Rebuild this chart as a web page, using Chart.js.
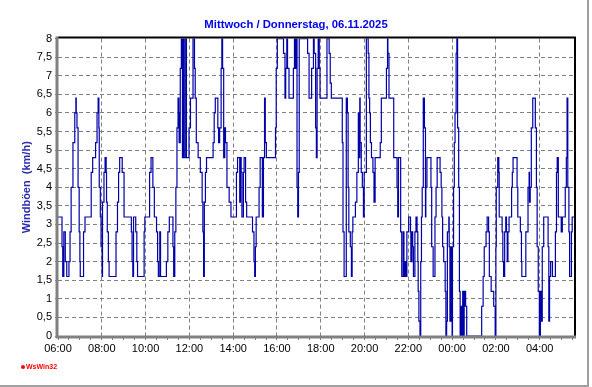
<!DOCTYPE html>
<html lang="de">
<head>
<meta charset="UTF-8">
<title>Windböen</title>
<script src="https://cdn.jsdelivr.net/npm/chart.js"></script>
<style>
  * { margin: 0; padding: 0; box-sizing: border-box; }
  body { background: #fff; width: 592px; height: 387px; overflow: hidden; }
  #grafico { display: block; }
</style>
</head>
<body>
<canvas id="grafico" width="592" height="387"></canvas>
<script>
// Zeitpunkte in Minuten ab 06:00 (Mittwoch), an denen sich der Wert ändert
const minuten = [
  0, 11, 13, 16, 20, 24, 30, 33, 36, 41, 46, 49, 50, 52, 55, 58, 60, 61, 70, 74,
  91, 95, 103, 107, 110, 112, 113, 116, 118, 121, 122, 126, 129, 132, 133, 135, 138, 140, 159, 163,
  166, 169, 176, 181, 201, 203, 205, 207, 213, 216, 218, 236, 238,
  251, 255, 260, 264, 270, 273, 275, 279, 281, 297, 301, 305, 315, 317, 320, 323, 326,
  329, 331, 332, 335, 338, 341, 343, 344, 346, 350, 352, 359, 363, 370, 374, 376, 379, 384, 390, 395,
  397, 399, 401, 404, 407, 425, 428, 431, 438, 440, 443, 447, 449, 451, 454, 457, 459, 463, 469, 474,
  489, 492, 498, 500, 502, 504, 508, 510, 514, 517, 533, 537, 539, 541, 543, 551, 554, 560, 563, 566,
  568, 571, 596, 598, 601, 618, 622, 624, 627, 629, 633, 645, 648, 649, 652, 655, 657, 659, 661, 684,
  688, 695, 700, 702, 706, 708, 710, 713, 716, 718,
  737, 743, 746, 749, 779, 781, 784, 790, 793, 795, 797, 801, 804, 806, 808, 815, 819, 823, 825, 827,
  828, 831, 834, 837, 839, 845, 850, 852, 854, 856, 859, 863, 866, 869, 883, 886, 900, 903, 904, 907,
  920, 929, 931, 933, 939, 942, 946, 948, 951, 954, 956,
  961, 966, 967, 970, 972, 974, 978, 981, 984, 986, 987, 989, 992, 994, 996, 998, 1001, 1004, 1007, 1008,
  1011, 1022, 1024, 1028, 1033, 1036, 1039, 1047, 1050, 1052, 1054, 1057, 1061, 1063, 1065, 1067, 1071, 1072, 1074, 1077,
  1080, 1081, 1084, 1086, 1088, 1091, 1093, 1095, 1098, 1100, 1102, 1104, 1107, 1109, 1112, 1113, 1115, 1117, 1120, 1161,
  1165, 1168, 1173, 1176, 1180, 1182, 1187, 1194, 1198,
  1200, 1201, 1205, 1208, 1209, 1217, 1219, 1221, 1224, 1227, 1229, 1231, 1233, 1236, 1243, 1245, 1247, 1258, 1260, 1267,
  1270, 1271, 1282, 1288, 1291, 1292, 1294, 1297, 1301, 1308, 1311, 1313, 1316, 1319, 1322, 1324, 1327, 1331, 1343, 1345,
  1347, 1350, 1355, 1363, 1366, 1368, 1371, 1379, 1382, 1390, 1393, 1395, 1397, 1400, 1402, 1407, 1409, 1414
];
// Windböen in km/h
const boeen = [
  3.2, 2.4, 1.6, 2.8, 2.0, 1.6, 2.0, 2.8, 4.0, 5.2, 6.0, 6.4, 6.0, 5.6, 4.0, 2.8, 2.0, 1.6, 2.8, 3.2,
  4.4, 4.8, 5.2, 6.0, 6.4, 5.6, 4.0, 3.2, 2.4, 1.6, 3.6, 4.4, 4.8, 4.4, 3.6, 2.8, 2.0, 1.6, 2.8, 3.6,
  4.4, 4.8, 4.4, 3.2, 2.8, 2.0, 1.6, 3.2, 2.8, 2.0, 1.6, 2.8, 3.2,
  4.4, 4.8, 4.0, 3.2, 2.8, 2.0, 1.6, 2.8, 1.6, 2.0, 2.8, 3.2, 2.4, 1.6, 2.8, 4.0, 5.6,
  6.4, 6.0, 5.2, 7.2, 8.0, 4.8, 6.4, 8.0, 4.8, 8.0, 4.8, 5.6, 6.4, 8.0, 7.2, 6.4, 5.2, 4.8, 4.4, 3.6,
  2.8, 1.6, 3.6, 4.4, 4.8, 5.2, 6.0, 6.4, 5.6, 5.2, 5.6, 7.2, 8.0, 7.2, 4.8, 5.6, 5.2, 4.0, 3.6, 3.2,
  4.4, 4.8, 3.6, 4.8, 4.4, 3.2, 4.4, 4.8, 3.6, 3.2, 2.8, 2.0, 1.6, 2.4, 3.2, 4.0, 4.8, 3.2, 4.8, 6.4,
  5.2, 4.8, 5.6, 7.2, 8.0, 7.6, 6.4, 7.2, 8.0, 7.2, 6.4, 7.2, 8.0, 7.2, 8.0, 4.0, 3.2, 4.4, 8.0, 7.6,
  6.4, 7.2, 8.0, 7.6, 5.6, 4.8, 7.2, 8.0, 7.2, 6.4,
  8.0, 7.6, 6.8, 6.4, 5.2, 2.8, 1.6, 6.4, 6.0, 4.0, 2.8, 2.4, 1.6, 2.8, 3.2, 3.6, 4.4, 6.0, 4.8, 6.4,
  5.2, 4.4, 4.0, 3.2, 4.4, 8.0, 7.6, 6.4, 6.0, 5.2, 4.8, 4.4, 3.6, 4.8, 5.2, 6.4, 7.2, 8.0, 7.6, 6.4,
  4.8, 4.0, 3.2, 4.8, 2.8, 1.6, 2.8, 1.6, 2.0, 1.6, 2.8,
  3.2, 2.8, 2.0, 2.8, 2.4, 1.6, 2.8, 3.2, 2.8, 2.0, 1.2, 0.4, 0, 2.0, 3.2, 4.0, 6.4, 5.6, 3.2, 4.0,
  4.8, 4.0, 2.4, 1.6, 3.2, 4.0, 4.8, 4.4, 4.0, 3.2, 2.4, 2.0, 1.2, 0, 0.4, 2.8, 3.2, 2.4, 0.4, 2.4,
  0, 2.4, 4.0, 5.2, 6.0, 7.6, 8.0, 5.6, 4.0, 1.2, 0, 0.8, 0, 1.2, 0, 0.8, 1.2, 0.8, 0, 0.8,
  1.6, 2.4, 2.8, 3.2, 2.8, 1.6, 1.2, 0.8, 0,
  2.4, 4.0, 4.8, 4.4, 3.2, 2.8, 2.0, 1.6, 2.8, 3.2, 2.8, 2.0, 2.8, 3.2, 4.0, 4.4, 4.8, 4.0, 3.2, 2.8,
  2.0, 1.6, 2.8, 4.0, 4.4, 3.6, 4.0, 5.6, 6.4, 5.6, 4.0, 2.4, 1.2, 0, 1.2, 0.4, 2.4, 3.2, 2.4, 0.4,
  1.6, 2.0, 1.6, 2.8, 4.4, 4.8, 3.2, 2.8, 3.2, 4.0, 4.8, 6.4, 4.0, 2.8, 1.6, 2.8, 3.2, 3.2
];
// Beschriftung der x-Achse (alle 2 Stunden), Nebenstriche alle 30 Minuten
const zeitLabels = ['06:00', '08:00', '10:00', '12:00', '14:00', '16:00', '18:00', '20:00', '22:00', '00:00', '02:00', '04:00'];
const xMax = 1414;
const hauptSchritt = 120;
const nebenSchritt = 30;
const yMax = 8;
const ySchritt = 0.5;

const schrift = "'Liberation Sans', Arial, sans-serif";
const schmal = "'Liberation Sans Narrow', 'Liberation Sans', Arial, sans-serif";
const gitterFarbe = '#808080';

// Rahmen, Achsen und WsWin32-Logo
const rahmen = {
  id: 'rahmen',
  beforeDraw(chart) {
    const ctx = chart.ctx;
    ctx.save();
    ctx.fillStyle = '#fff';
    ctx.fillRect(0, 0, chart.width, chart.height);
    ctx.restore();
  },
  afterDatasetsDraw(chart) {
    const { ctx, chartArea: a } = chart;
    ctx.save();
    ctx.strokeStyle = '#000';
    ctx.lineWidth = 2;
    ctx.beginPath();
    ctx.moveTo(a.left, a.top - 1);
    ctx.lineTo(a.right + 1, a.top - 1);
    ctx.lineTo(a.right + 1, a.bottom);
    ctx.stroke();

    ctx.strokeStyle = gitterFarbe;
    ctx.lineWidth = 3;
    ctx.beginPath();
    ctx.moveTo(a.left - 1, a.top - 2);
    ctx.lineTo(a.left - 1, a.bottom + 1);
    ctx.lineTo(a.right + 2, a.bottom + 1);
    ctx.stroke();

    // äußerer Rand rechts/unten
    ctx.strokeStyle = '#a0a0a0';
    ctx.lineWidth = 2;
    ctx.beginPath();
    ctx.moveTo(588, 0);
    ctx.lineTo(588, 386);
    ctx.lineTo(0, 386);
    ctx.stroke();

    // Logo
    ctx.fillStyle = '#ff0000';
    ctx.beginPath();
    ctx.arc(23, 367, 2, 0, Math.PI * 2);
    ctx.fill();
    ctx.font = "bold 7px " + schrift;
    ctx.textBaseline = 'middle';
    ctx.fillText('WsWin32', 26, 367);
    ctx.restore();
  }
};

new Chart(document.getElementById('grafico'), {
  type: 'line',
  data: {
    datasets: [{
      label: 'Windböen',
      data: minuten.map((m, i) => ({ x: m, y: boeen[i] })),
      borderColor: '#0000a8',
      borderWidth: 1.2,
      pointRadius: 0,
      stepped: true,
      fill: false
    }]
  },
  options: {
    responsive: false,
    devicePixelRatio: 1,
    animation: false,
    layout: { padding: { left: 18, right: 18, top: 0, bottom: 0 } },
    plugins: {
      legend: { display: false },
      tooltip: { enabled: false },
      title: {
        display: true,
        text: 'Mittwoch / Donnerstag, 06.11.2025',
        color: '#0000ee',
        font: { family: schrift, size: 11.3, weight: 'bold' },
        padding: { top: 18, bottom: 7 }
      }
    },
    scales: {
      x: {
        type: 'linear',
        min: 0,
        max: xMax,
        afterFit(scale) { scale.height = 51; },
        afterBuildTicks(scale) {
          const t = [];
          for (let v = 0; v <= xMax; v += nebenSchritt) t.push({ value: v });
          scale.ticks = t;
        },
        ticks: {
          autoSkip: false,
          maxRotation: 0,
          padding: 2,
          color: '#000',
          font: { family: schmal, size: 11 },
          callback: v => (v % hauptSchritt === 0 ? zeitLabels[v / hauptSchritt] : '')
        },
        grid: {
          color: c => (c.tick && c.tick.value % hauptSchritt === 0 && c.tick.value !== 0 ? gitterFarbe : 'rgba(0,0,0,0)'),
          lineWidth: 1,
          tickColor: gitterFarbe,
          tickLength: 4,
          drawTicks: true
        },
        border: { display: false, dash: [4, 3] }
      },
      y: {
        min: 0,
        max: yMax,
        afterFit(scale) { scale.width = 40; },
        ticks: {
          stepSize: ySchritt,
          padding: 3,
          color: '#000',
          font: { family: schrift, size: 11 },
          callback: v => String(v).replace('.', ',')
        },
        grid: {
          color: c => (c.tick && c.tick.value > 0 && c.tick.value < yMax ? gitterFarbe : 'rgba(0,0,0,0)'),
          lineWidth: 1,
          tickColor: gitterFarbe,
          tickLength: 3
        },
        border: { display: false, dash: [4, 3] },
        title: {
          display: true,
          text: 'Windböen  (km/h)',
          color: '#2b2bb0',
          font: { family: schrift, size: 11, weight: 'bold' },
          padding: { top: 2, bottom: 0 }
        }
      }
    }
  },
  plugins: [rahmen]
});
</script>
</body>
</html>
